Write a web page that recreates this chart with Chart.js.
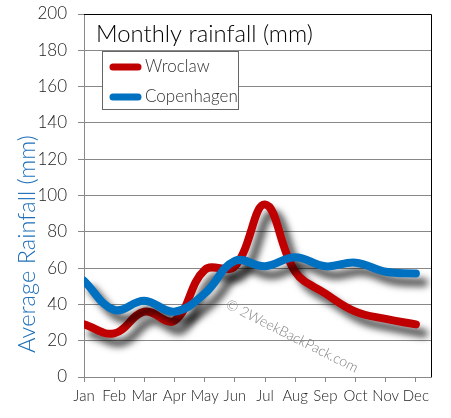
<!DOCTYPE html>
<html><head><meta charset="utf-8">
<script src="https://cdn.jsdelivr.net/npm/chart.js@4/dist/chart.umd.min.js"></script>
<style>html,body{margin:0;padding:0;background:#fff;}#wrap{width:451px;height:418px;position:relative;}</style>
</head><body><div id="wrap"><canvas id="c"></canvas></div>
<script>
const months = ['Jan','Feb','Mar','Apr','May','Jun','Jul','Aug','Sep','Oct','Nov','Dec'];
const wroclaw = [29, 24, 36, 31, 59, 61, 95, 58, 46, 36, 32, 29];
const copenhagen = [53, 37, 42, 36, 46, 64, 61, 66, 61, 63, 58, 57];
const seriesNames = ['Wroclaw', 'Copenhagen'];
const yMin = 0, yMax = 200, yStep = 20;
const chartTitle = 'Monthly rainfall (mm)';
const yTitle = 'Average Rainfall (mm)';
const watermark = '\u00A9 2WeekBackPack.com';

const RED = '#c00000', BLUE = '#0070c0';
const FONT = 'Lato';
const W = '300';

function fitFont(ctx, text, weight, targetW, base) {
  ctx.font = weight + ' ' + base + 'px ' + FONT;
  const w = ctx.measureText(text).width;
  return base * targetW / w;
}

const shadowPlugin = {
  id: 'shadow',
  beforeDatasetDraw(chart) {
    const ctx = chart.ctx;
    ctx.save();
    ctx.shadowColor = 'rgba(0,0,0,0.7)';
    ctx.shadowBlur = 7;
    ctx.shadowOffsetX = 8;
    ctx.shadowOffsetY = 9;
  },
  afterDatasetDraw(chart) { chart.ctx.restore(); }
};

const decorPlugin = {
  id: 'decor',
  beforeDatasetsDraw(chart) {
    const ctx = chart.ctx;
    ctx.save();
    ctx.translate(292, 336);
    ctx.rotate(26.6 * Math.PI / 180);
    ctx.fillStyle = '#808080';
    ctx.textAlign = 'center';
    ctx.textBaseline = 'middle';
    const fs = fitFont(ctx, watermark, W, 146, 15);
    ctx.font = W + ' ' + fs + 'px ' + FONT;
    ctx.fillText(watermark, 0, 0);
    ctx.restore();
  },
  afterDraw(chart) {
    const ctx = chart.ctx, a = chart.chartArea;
    ctx.save();
    ctx.strokeStyle = '#000';
    ctx.lineWidth = 1;
    ctx.beginPath();
    ctx.moveTo(a.left, a.top + 0.5);
    ctx.lineTo(a.right + 0.5, a.top + 0.5);
    ctx.lineTo(a.right + 0.5, a.bottom);
    ctx.stroke();
    // title
    ctx.fillStyle = '#000';
    ctx.textBaseline = 'alphabetic';
    ctx.textAlign = 'left';
    const tfs = fitFont(ctx, chartTitle, W, 217, 24);
    ctx.font = W + ' ' + tfs + 'px ' + FONT;
    ctx.fillText(chartTitle, 96, 42);
    // legend box
    ctx.fillStyle = '#fff';
    ctx.fillRect(102.5, 51.5, 136, 58);
    ctx.strokeStyle = '#666';
    ctx.strokeRect(102.5, 51.5, 136, 58);
    const items = [[seriesNames[0], RED, 67], [seriesNames[1], BLUE, 97]];
    ctx.font = W + ' 17px ' + FONT;
    ctx.textBaseline = 'middle';
    for (const [name, col, y] of items) {
      ctx.strokeStyle = col;
      ctx.lineWidth = 7;
      ctx.lineCap = 'round';
      ctx.beginPath();
      ctx.moveTo(113, y);
      ctx.lineTo(138, y);
      ctx.stroke();
      ctx.fillStyle = '#333';
      ctx.fillText(name, 145, y);
    }
    // y title
    ctx.translate(27, 244);
    ctx.rotate(-Math.PI / 2);
    ctx.textAlign = 'center';
    ctx.textBaseline = 'middle';
    ctx.fillStyle = '#1f6fb9';
    const yfs = fitFont(ctx, yTitle, W, 218, 24);
    ctx.font = W + ' ' + yfs + 'px ' + FONT;
    ctx.fillText(yTitle, 0, 0);
    ctx.restore();
  }
};

new Chart(document.getElementById('c'), {
  type: 'line',
  data: {
    datasets: [
      { label: seriesNames[0], data: wroclaw.map((v, i) => ({x: i, y: v})), borderColor: RED, backgroundColor: RED, order: 2 },
      { label: seriesNames[1], data: copenhagen.map((v, i) => ({x: i, y: v})), borderColor: BLUE, backgroundColor: BLUE, order: 1 }
    ]
  },
  options: {
    responsive: true,
    maintainAspectRatio: false,
    animation: false,
    devicePixelRatio: 1,
    layout: { autoPadding: false, padding: { top: 14, right: 20, left: 0, bottom: 0 } },
    elements: {
      line: { borderWidth: 8, tension: 0.4, borderCapStyle: 'round', borderJoinStyle: 'round', fill: false },
      point: { radius: 0, hoverRadius: 0 }
    },
    plugins: { legend: { display: false }, tooltip: { enabled: false }, title: { display: false } },
    scales: {
      x: {
        type: 'linear', min: 0, max: 11.5,
        afterFit(s) { s.height = 41; },
        ticks: { stepSize: 1, includeBounds: false, autoSkip: false, maxRotation: 0, padding: 5,
          color: '#222', font: { family: FONT, size: 15, weight: W },
          callback: v => months[v] !== undefined && Number.isInteger(v) ? months[v] : '' },
        grid: { drawOnChartArea: false, drawTicks: true, tickLength: 5, color: '#888' },
        border: { color: '#888', width: 1 }
      },
      y: {
        min: yMin, max: yMax,
        afterFit(s) { s.width = 84; s.paddingTop = 0; s.paddingBottom = 0; },
        ticks: { stepSize: yStep, padding: 11, color: '#222', font: { family: FONT, size: 17, weight: W } },
        grid: { color: '#888', tickLength: 6, lineWidth: 1 },
        border: { color: '#888', width: 1 }
      }
    }
  },
  plugins: [shadowPlugin, decorPlugin]
});
</script></body></html>
